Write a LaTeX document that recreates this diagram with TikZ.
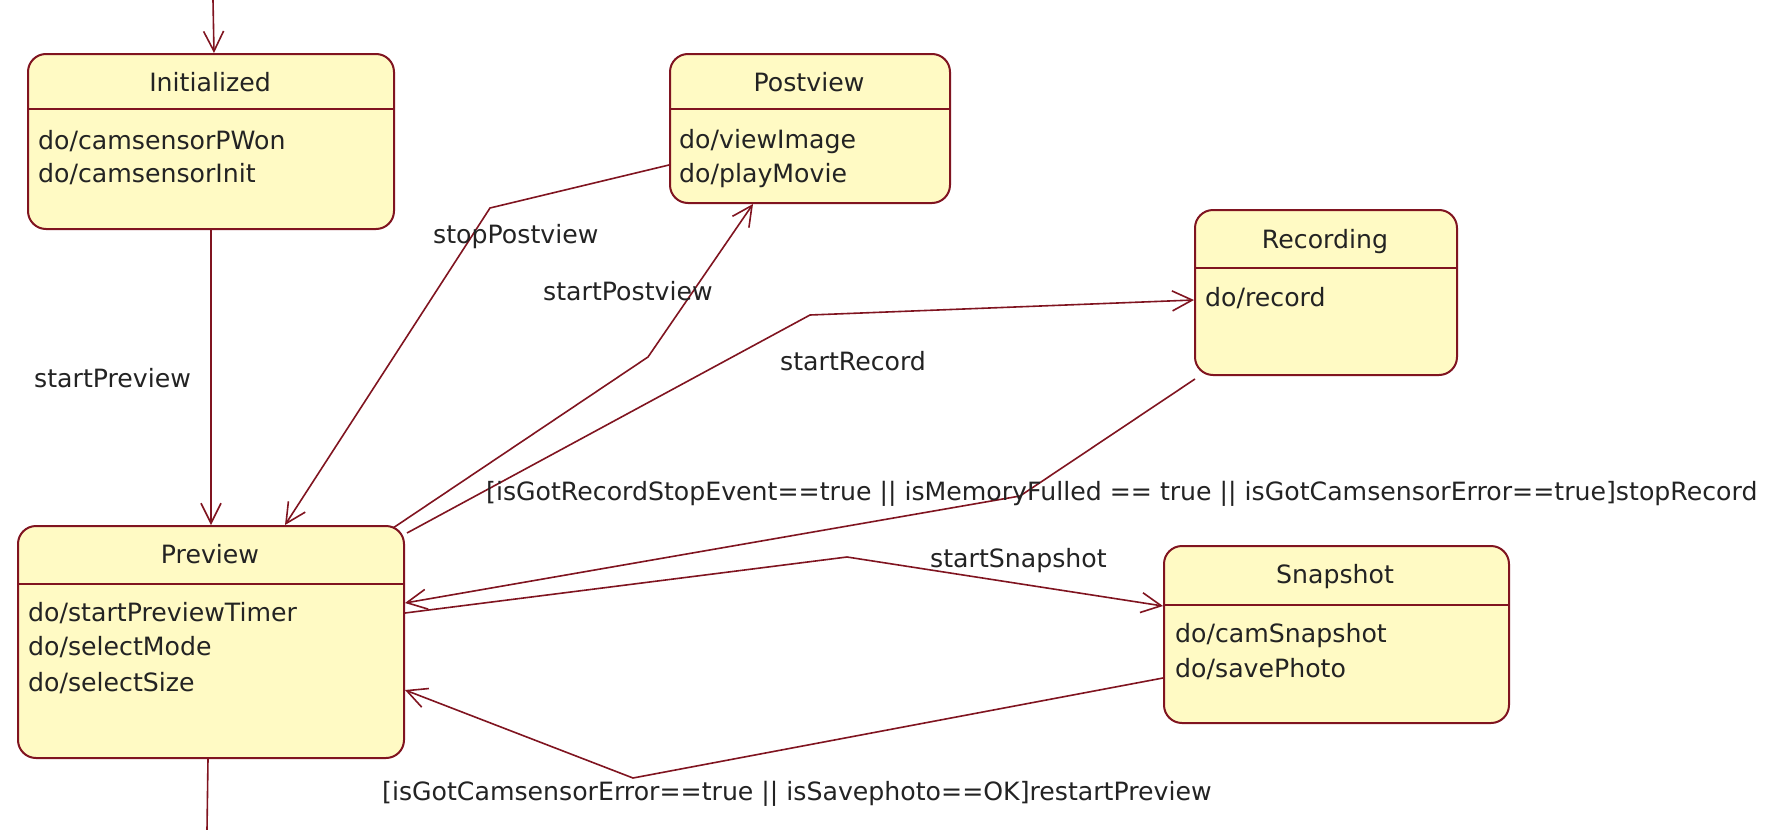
\documentclass[tikz,border=0pt]{standalone}
\usepackage{fontspec}
\setmainfont{DejaVu Sans}
\usetikzlibrary{arrows.meta}
\definecolor{umlline}{RGB}{128,20,32}
\definecolor{umlfill}{RGB}{255,250,196}
\definecolor{umltext}{RGB}{35,35,35}
\newcommand{\umlfont}{\fontsize{25.2}{31}\selectfont}

\begin{document}
\begin{tikzpicture}[x=1pt,y=-1pt,
  umlstate/.style={draw=umlline, fill=umlfill, line width=2pt, rounded corners=18pt,
                   anchor=north west, inner sep=0pt},
  divider/.style={draw=umlline, line width=2pt},
  statetitle/.style={font=\umlfont, text=umltext, inner sep=0pt, anchor=base},
  activity/.style={font=\umlfont, text=umltext, inner sep=0pt, anchor=base west},
  translabel/.style={font=\umlfont, text=umltext, inner sep=0pt, anchor=base west},
  wire/.style={draw=umlline, line width=1.6pt},
  trans/.style={wire, -{Straight Barb[length=20pt,width=20pt]}},
]
\fill[white] (0,0) rectangle (1778,830);
\useasboundingbox (0,0) rectangle (1778,830);

% states
\node[umlstate, minimum width=366pt, minimum height=175pt] (init) at (27,53) {};
\node[umlstate, minimum width=280pt, minimum height=149pt] (postview) at (669,53) {};
\node[umlstate, minimum width=262pt, minimum height=165pt] (recording) at (1194,209) {};
\node[umlstate, minimum width=386pt, minimum height=232pt] (preview) at (17,525) {};
\node[umlstate, minimum width=345pt, minimum height=177pt] (snapshot) at (1163,545) {};

% compartment lines
\draw[divider] ([yshift=-56pt]init.north west) -- ([yshift=-56pt]init.north east);
\draw[divider] ([yshift=-56pt]postview.north west) -- ([yshift=-56pt]postview.north east);
\draw[divider] ([yshift=-59pt]recording.north west) -- ([yshift=-59pt]recording.north east);
\draw[divider] ([yshift=-59pt]preview.north west) -- ([yshift=-59pt]preview.north east);
\draw[divider] ([yshift=-60pt]snapshot.north west) -- ([yshift=-60pt]snapshot.north east);

% state names
\node[statetitle] (init-name) at (210,91) {Initialized};
\node[statetitle] (postview-name) at (809,91) {Postview};
\node[statetitle] (recording-name) at (1325,248) {Recording};
\node[statetitle] (preview-name) at (210,563) {Preview};
\node[statetitle] (snapshot-name) at (1335,583) {Snapshot};

% activities
\node[activity] (init-do1) at (38,149) {do/camsensorPWon};
\node[activity] (init-do2) at (38,182) {do/camsensorInit};
\node[activity] (postview-do1) at (679,148) {do/viewImage};
\node[activity] (postview-do2) at (679,182) {do/playMovie};
\node[activity] (recording-do1) at (1205,306) {do/record};
\node[activity] (preview-do1) at (28,621) {do/startPreviewTimer};
\node[activity] (preview-do2) at (28,655) {do/selectMode};
\node[activity] (preview-do3) at (28,691) {do/selectSize};
\node[activity] (snapshot-do1) at (1175,642) {do/camSnapshot};
\node[activity] (snapshot-do2) at (1175,677) {do/savePhoto};

% free ends and bend points
\coordinate (entry) at (213,0);
\coordinate (exit) at (207,830);
\coordinate (bend-stoppv) at (490,208);
\coordinate (bend-startpv) at (648,357);
\coordinate (bend-startrec) at (810,315);
\coordinate (bend-stoprec) at (1020,496);
\coordinate (bend-startsnap) at (847,557);
\coordinate (bend-restart) at (633,778);

% transitions
\draw[trans] (entry) -- ([xshift=3pt]init.north);
\draw[trans] (init.south) -- (preview.north);
\draw[wire] ([xshift=-3pt]preview.south) -- (exit);
\draw[trans] ([yshift=-112pt]postview.north west) -- (bend-stoppv)
   -- ([xshift=268pt]preview.north west);
\draw[trans] ([shift={(-12,3)}]preview.north east) -- (bend-startpv)
   -- ([xshift=84pt]postview.south west);
\draw[trans] ([shift={(2,8)}]preview.north east) -- (bend-startrec)
   -- ([yshift=-91pt]recording.north west);
\draw[trans] ([shift={(1,3)}]recording.south west) -- (bend-stoprec)
   -- ([yshift=-78pt]preview.north east);
\draw[trans] ([yshift=-88pt]preview.north east) -- (bend-startsnap)
   -- ([yshift=-61pt]snapshot.north west);
\draw[trans] ([yshift=-133pt]snapshot.north west) -- (bend-restart)
   -- ([yshift=-165pt]preview.north east);

% transition labels
\node[translabel] (lbl-startpreview) at (34,387) {startPreview};
\node[translabel] (lbl-stoppostview) at (433,243) {stopPostview};
\node[translabel] (lbl-startpostview) at (543,300) {startPostview};
\node[translabel] (lbl-startrecord) at (780,370) {startRecord};
\node[translabel] (lbl-stoprecord) at (486,500)
  {[isGotRecordStopEvent==true || isMemoryFulled == true || isGotCamsensorError==true]stopRecord};
\node[translabel] (lbl-startsnapshot) at (930,567) {startSnapshot};
\node[translabel] (lbl-restart) at (382,800)
  {[isGotCamsensorError==true || isSavephoto==OK]restartPreview};
\end{tikzpicture}
\end{document}
